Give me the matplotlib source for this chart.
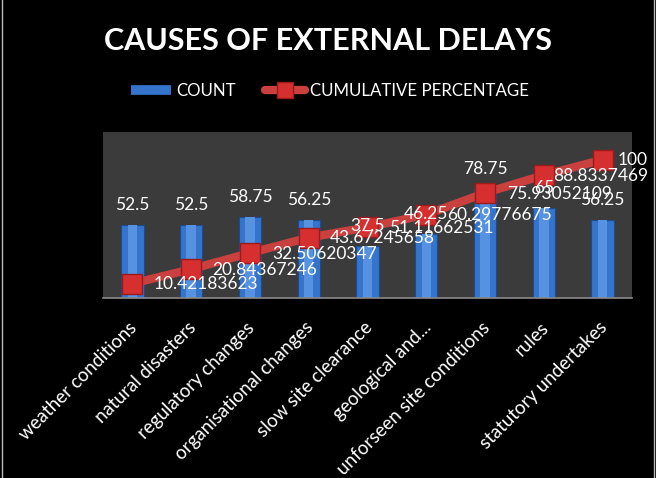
import matplotlib
matplotlib.use('Agg')
import matplotlib.pyplot as plt
import matplotlib.transforms as mtransforms
from matplotlib.lines import Line2D

categories = ['weather conditions', 'natural disasters', 'regulatory changes',
              'organisational changes', 'slow site clearance', 'geological and...',
              'unforseen site conditions', 'rules', 'statutory undertakes']
counts = [52.5, 52.5, 58.75, 56.25, 37.5, 46.25, 78.75, 65, 56.25]
cumulative = [10.42183623, 20.84367246, 32.50620347, 43.67245658, 51.11662531,
              60.29776675, 75.93052109, 88.8337469, 100]
count_labels = ['52.5', '52.5', '58.75', '56.25', '37.5', '46.25', '78.75', '65', '56.25']
cum_labels = ['10.42183623', '20.84367246', '32.50620347', '43.67245658', '51.11662531',
              '60.29776675', '75.93052109', '88.8337469', '100']
# horizontal offset (points) of the cumulative labels, as placed in the original
cum_label_dx = [15.5, 15.5, 16, 15.5, 15.5, 15, 16, 6.5, 10.5]

plt.rcParams['font.family'] = ['Lato', 'DejaVu Sans']

fig = plt.figure(figsize=(6.56, 4.78), dpi=100, facecolor='black')
ax = fig.add_axes([103 / 656, 1 - 298 / 478, 529 / 656, 166 / 478])
ax.set_facecolor('#3b3b3b')

x = list(range(len(categories)))
bar_color = '#3574cc'
ax.bar(x, counts, width=0.38, color=bar_color, edgecolor='#1d4c8c', linewidth=0.8, zorder=2)
# lighter cylinder highlight
ax.bar(x, counts, width=0.16, color='#5692e0', linewidth=0, zorder=2)

line_color = '#c9403e'
ax.plot(x, cumulative, color=line_color, linewidth=6, solid_capstyle='round', zorder=3)
ax.plot(x, cumulative, linestyle='none', marker='s', markersize=14,
        markerfacecolor='#d62f2f', markeredgecolor='#9c1a1a', markeredgewidth=1, zorder=4)

for xi, v, lab in zip(x, counts, count_labels):
    ax.annotate(lab, (xi, v), xytext=(0, 14.5), textcoords='offset points',
                ha='center', va='center', color='white', fontsize=12.5, zorder=5)
for xi, v, lab, dx in zip(x, cumulative, cum_labels, cum_label_dx):
    ax.annotate(lab, (xi, v), xytext=(dx, -0.5), textcoords='offset points',
                ha='left', va='center', color='white', fontsize=12.5, zorder=5)

ax.set_xlim(-0.5, len(categories) - 0.5)
ax.set_ylim(0, 120)
ax.set_yticks([])
ax.set_xticks(x)
ax.set_xticklabels(categories, rotation=45, ha='right', rotation_mode='anchor',
                   color='white', fontsize=13.5)
ax.tick_params(axis='x', length=0, pad=15)
shift = mtransforms.ScaledTranslation(-4 / 100, 0, fig.dpi_scale_trans)
for lbl in ax.get_xticklabels():
    lbl.set_transform(lbl.get_transform() + shift)
for side in ['top', 'left', 'right']:
    ax.spines[side].set_visible(False)
ax.spines['bottom'].set_color('#8a8a8a')
ax.spines['bottom'].set_linewidth(1.2)

fig.text(0.5, 1 - 41 / 478, 'CAUSES OF EXTERNAL DELAYS', ha='center', va='center',
         color='white', fontsize=22, fontweight='bold')

handles = [
    Line2D([], [], color=bar_color, linewidth=7, solid_capstyle='butt'),
    Line2D([], [], color=line_color, linewidth=6, marker='s', markersize=12,
           markerfacecolor='#d62f2f', markeredgecolor='#9c1a1a', solid_capstyle='round'),
]
leg = fig.legend(handles, ['COUNT', 'CUMULATIVE PERCENTAGE'], loc='center',
                 bbox_to_anchor=(330 / 656, 1 - 91 / 478), ncol=2, frameon=False,
                 fontsize=12.2, handlelength=2.4, handletextpad=0.3, columnspacing=1.7)
for t in leg.get_texts():
    t.set_color('white')

# thin frame edges
fig.add_artist(Line2D([2 / 656, 2 / 656], [0, 1], color='#bbbbbb', linewidth=1.0))
fig.add_artist(Line2D([654 / 656, 654 / 656], [0, 1], color='#bbbbbb', linewidth=1.0))

fig.savefig('out.png', dpi=100, facecolor='black')
